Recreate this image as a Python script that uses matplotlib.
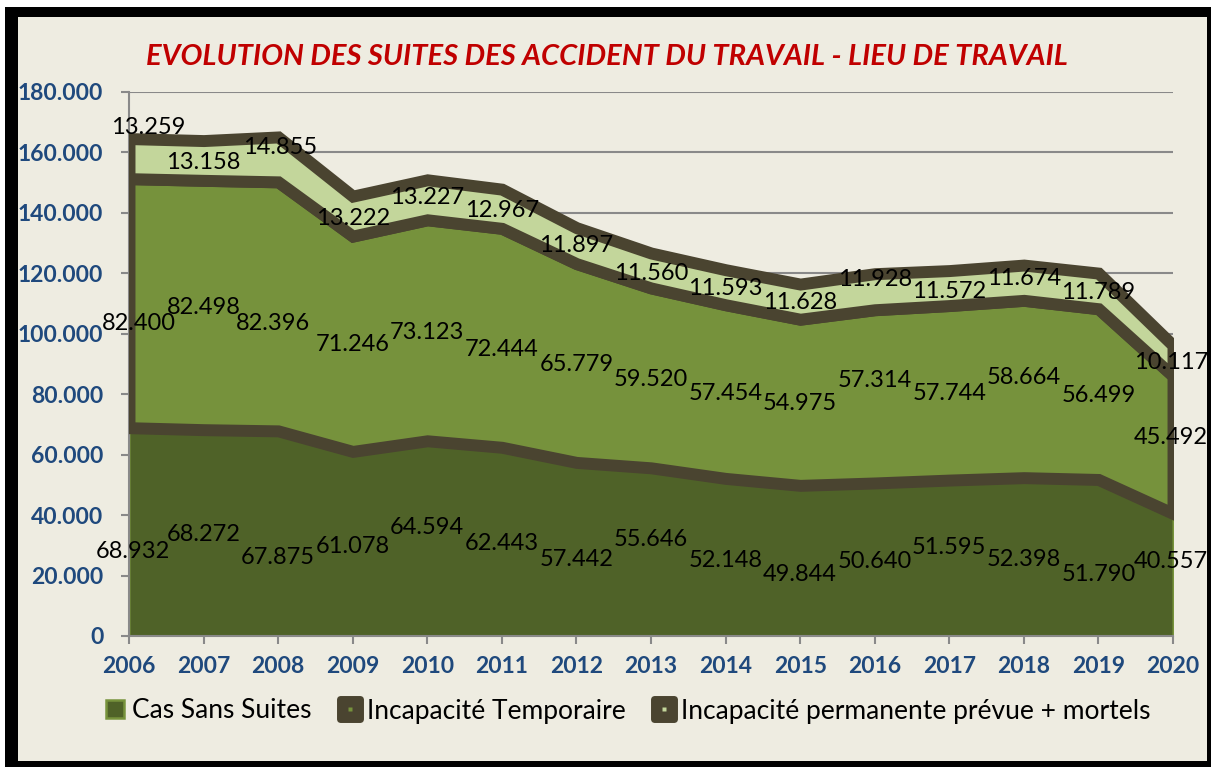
import matplotlib
matplotlib.use("Agg")
import matplotlib.pyplot as plt
from matplotlib.patches import Rectangle
from matplotlib.lines import Line2D
from matplotlib.markers import MarkerStyle
import numpy as np

# données
years = list(range(2006, 2021))
cas_sans_suites = [68932, 68272, 67875, 61078, 64594, 62443, 57442, 55646,
                   52148, 49844, 50640, 51595, 52398, 51790, 40557]
incap_temp = [82400, 82498, 82396, 71246, 73123, 72444, 65779, 59520,
              57454, 54975, 57314, 57744, 58664, 56499, 45492]
incap_perm = [13259, 13158, 14855, 13222, 13227, 12967, 11897, 11560,
              11593, 11628, 11928, 11572, 11674, 11789, 10117]
series_names = ["Cas Sans Suites", "Incapacité Temporaire",
                "Incapacité permanente prévue + mortels"]
title = "EVOLUTION DES SUITES DES ACCIDENT DU TRAVAIL - LIEU DE TRAVAIL"

# décalages des étiquettes (pixels, comme dans Excel)
dy_bas = [20, 2, 24, 3, -11, 2, 10, -12, 3, 14, 2, -11, 3, 17, -13]
dy_mil = [20, 2, 17, 1, 2, 12, 2, 2, 2, 1, -16, 1, -11, 1, -7]
dy_haut = [-31, 2, -12, 2, -2, 2, 0, 3, 1, 1, -12, 3, -4, 2, 2]
dx_bas = [4] + [0] * 13 + [-2]
dx_mil = [10, 0, -5] + [0] * 11 + [-2]
dx_haut = [19, 0, 2] + [0] * 11 + [-2]

FONT = "Lato"
BG = "#EEECE1"
C_BAS = "#4F6228"
C_MIL = "#76923C"
C_HAUT = "#C3D69B"
C_BORD = "#4A4430"
BLEU = "#1F497D"

plt.rcParams["font.family"] = [FONT, "DejaVu Sans"]

fig = plt.figure(figsize=(12.11, 7.67), dpi=100, facecolor="white")
W, H = 1211, 767
fig.patches.append(Rectangle((5 / W, 0), 1 - 5 / W, (H - 7) / H,
                             transform=fig.transFigure, facecolor="black",
                             edgecolor="none", zorder=-20))
fig.patches.append(Rectangle((18 / W, 6 / H), (1207 - 18) / W, (761 - 17) / H,
                             transform=fig.transFigure, facecolor=BG,
                             edgecolor="none", zorder=-19))

ax = fig.add_axes([129 / W, (H - 636) / H, (1173 - 129) / W, (636 - 92) / H])
ax.set_facecolor("none")

x = np.array(years)
b = np.array(cas_sans_suites)
m = b + np.array(incap_temp)
t = m + np.array(incap_perm)

ax.fill_between(x, 0, b, facecolor=C_BAS, edgecolor="#77933C", linewidth=1.5, zorder=2)
ax.fill_between(x, b, m, facecolor=C_MIL, edgecolor=C_BORD, linewidth=8.6,
                joinstyle="miter", zorder=3)
ax.fill_between(x, m, t, facecolor=C_HAUT, edgecolor=C_BORD, linewidth=8.6,
                joinstyle="miter", zorder=4)

def fmt(v):
    return f"{v:,}".replace(",", ".")

for vals, base, dxs, dys in [(cas_sans_suites, np.zeros(len(x)), dx_bas, dy_bas),
                             (incap_temp, b, dx_mil, dy_mil),
                             (incap_perm, m, dx_haut, dy_haut)]:
    for i, v in enumerate(vals):
        ax.annotate(fmt(v), (x[i], base[i] + v / 2), xytext=(dxs[i], -dys[i]),
                    textcoords="offset pixels", ha="center", va="center",
                    fontsize=17, color="black", zorder=6, annotation_clip=False)

ax.set_xlim(2006, 2020)
ax.set_ylim(0, 180000)
ax.set_xticks(years)
ax.set_xticklabels([str(y) for y in years])
yt = list(range(0, 180001, 20000))
ax.set_yticks(yt)
ax.set_yticklabels([fmt(v) for v in yt])
ax.grid(axis="y", color="#898989", linewidth=1.5, zorder=0)
ax.set_axisbelow(True)
for s in ["top", "right"]:
    ax.spines[s].set_visible(False)
for s in ["left", "bottom"]:
    ax.spines[s].set_color("#898989")
    ax.spines[s].set_linewidth(1.5)
ax.tick_params(axis="both", colors="#898989", width=1.5, length=5.5,
               labelcolor=BLEU, labelsize=16.5)
ax.tick_params(axis="y", pad=13)
ax.tick_params(axis="x", pad=9)
for lab in ax.get_xticklabels() + ax.get_yticklabels():
    lab.set_fontweight("bold")

fig.text(607 / W, 1 - 57 / H, title, color="#C00000", fontsize=21,
         fontweight="bold", fontstyle="italic", ha="center", va="center")

rond = MarkerStyle("s", joinstyle="round")
h1 = Line2D([], [], linestyle="none", marker="s", markersize=13,
            markerfacecolor=C_BAS, markeredgecolor="#77933C", markeredgewidth=1.8)
h2 = (Line2D([], [], linestyle="none", marker=rond, markersize=15,
             markerfacecolor=C_BORD, markeredgecolor=C_BORD, markeredgewidth=5),
      Line2D([], [], linestyle="none", marker="s", markersize=3,
             markerfacecolor=C_MIL, markeredgecolor="none"))
h3 = (Line2D([], [], linestyle="none", marker=rond, markersize=15,
             markerfacecolor=C_BORD, markeredgecolor=C_BORD, markeredgewidth=5),
      Line2D([], [], linestyle="none", marker="s", markersize=3,
             markerfacecolor=C_HAUT, markeredgecolor="none"))
fig.legend([h1, h2, h3], series_names, loc="center", ncol=3,
           bbox_to_anchor=(627 / W, 1 - 711 / H), frameon=False,
           fontsize=19, handlelength=0.9, handletextpad=0.2,
           columnspacing=1.0, borderpad=0)

fig.savefig("out.png", dpi=100, facecolor="white")
